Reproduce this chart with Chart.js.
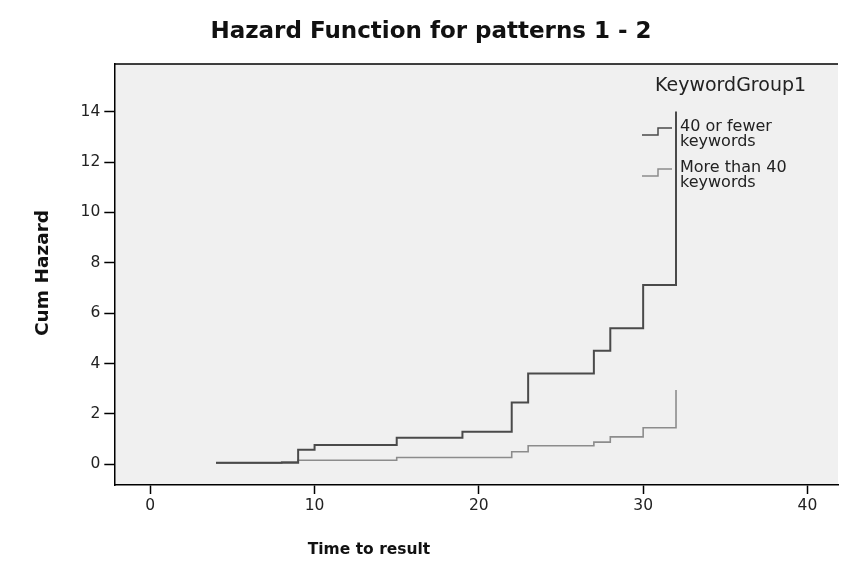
<!DOCTYPE html>
<html>
<head>
<meta charset="utf-8">
<script src="https://cdn.jsdelivr.net/npm/chart.js@4.4.0/dist/chart.umd.min.js"></script>
<style>
  html, body { margin: 0; padding: 0; background: #fff; }
  #wrap { width: 841px; height: 575px; }
</style>
</head>
<body>
<div id="wrap"><canvas id="hazardChart" width="841" height="575"></canvas></div>
<script>
// values
var groupTitle = 'KeywordGroup1';
var groupLines = [['40 or fewer', 'keywords'], ['More than 40', 'keywords']];
var timesFew = [4, 9, 10, 15, 19, 22, 23, 27, 28, 30, 32];
var hazardFew = [0.06, 0.58, 0.77, 1.06, 1.29, 2.45, 3.61, 4.51, 5.40, 7.12, 14.0];
var timesMany = [4, 8, 9, 15, 22, 23, 27, 28, 30, 32];
var hazardMany = [0.05, 0.1, 0.16, 0.27, 0.5, 0.74, 0.88, 1.09, 1.45, 2.95];
var xTicks = [0, 10, 20, 30, 40];
var yTicks = [0, 2, 4, 6, 8, 10, 12, 14];

var lineColors = ['#4a4a4a', '#8c8c8c'];
var fontFam = '"DejaVu Sans", Verdana, sans-serif';

function toPoints(ts, hs) {
    return ts.map(function (t, i) { return { x: t, y: hs[i] }; });
}

var decorPlugin = {
    id: 'decor',
    beforeDraw: function (chart) {
        var ctx = chart.ctx, a = chart.chartArea;
        ctx.save();
        ctx.fillStyle = '#ffffff';
        ctx.fillRect(0, 0, chart.width, chart.height);
        ctx.fillStyle = '#f0f0f0';
        ctx.fillRect(a.left, a.top, a.right - a.left, a.bottom - a.top);
        ctx.restore();
    },
    afterDraw: function (chart) {
        var ctx = chart.ctx, a = chart.chartArea;
        ctx.save();
        // top frame line
        ctx.strokeStyle = '#000';
        ctx.lineWidth = 1.5;
        ctx.beginPath();
        ctx.moveTo(a.left, a.top);
        ctx.lineTo(a.right, a.top);
        ctx.stroke();

        ctx.fillStyle = '#111';
        ctx.textAlign = 'center';
        ctx.textBaseline = 'middle';
        ctx.font = 'bold 23px ' + fontFam;
        ctx.fillText('Hazard Function for patterns 1 - 2', 431, 32);

        ctx.font = 'bold 15.5px ' + fontFam;
        ctx.fillText('Time to result', 369, 550);

        ctx.save();
        ctx.translate(43, 273);
        ctx.rotate(-Math.PI / 2);
        ctx.font = 'bold 18.5px ' + fontFam;
        ctx.fillText('Cum Hazard', 0, 0);
        ctx.restore();

        // legend
        ctx.fillStyle = '#222';
        ctx.textAlign = 'left';
        ctx.font = '19px ' + fontFam;
        ctx.fillText(groupTitle, 655, 86);

        ctx.font = '16px ' + fontFam;
        var rowY = [127, 168];
        groupLines.forEach(function (lines, i) {
            var y0 = rowY[i];
            lines.forEach(function (txt, j) {
                ctx.fillText(txt, 680, y0 + j * 15);
            });
            ctx.strokeStyle = lineColors[i];
            ctx.lineWidth = 1.5;
            ctx.beginPath();
            ctx.moveTo(642, y0 + 8);
            ctx.lineTo(658, y0 + 8);
            ctx.lineTo(658, y0 + 1);
            ctx.lineTo(672, y0 + 1);
            ctx.stroke();
        });
        ctx.restore();
    }
};

var tickFont = { family: fontFam, size: 15.5 };

new Chart(document.getElementById('hazardChart').getContext('2d'), {
    type: 'line',
    data: {
        datasets: [{
            label: groupLines[0].join(' '),
            data: toPoints(timesFew, hazardFew),
            borderColor: lineColors[0],
            borderWidth: 2,
            stepped: true,
            pointRadius: 0,
            fill: false
        }, {
            label: groupLines[1].join(' '),
            data: toPoints(timesMany, hazardMany),
            borderColor: lineColors[1],
            borderWidth: 1.6,
            stepped: true,
            pointRadius: 0,
            fill: false
        }]
    },
    options: {
        responsive: false,
        devicePixelRatio: 1,
        animation: false,
        layout: { padding: { top: 64, right: 3, left: 0, bottom: 0 } },
        plugins: {
            legend: { display: false },
            title: { display: false },
            tooltip: { enabled: false }
        },
        scales: {
            x: {
                type: 'linear',
                min: -2.19,
                max: 41.86,
                afterBuildTicks: function (s) { s.ticks = xTicks.map(function (v) { return { value: v }; }); },
                afterFit: function (s) { s.height = 90; },
                ticks: { font: tickFont, color: '#222', padding: 3, maxRotation: 0, autoSkip: false },
                grid: { drawOnChartArea: false, tickLength: 9, color: '#000', tickWidth: 1.5 },
                border: { color: '#000', width: 1.5 }
            },
            y: {
                type: 'linear',
                min: -0.82,
                max: 15.89,
                afterBuildTicks: function (s) { s.ticks = yTicks.map(function (v) { return { value: v }; }); },
                afterFit: function (s) { s.width = 114.3; },
                ticks: { font: tickFont, color: '#222', padding: 4, autoSkip: false },
                grid: { drawOnChartArea: false, tickLength: 10, color: '#000', tickWidth: 1.5 },
                border: { color: '#000', width: 1.5 }
            }
        }
    },
    plugins: [decorPlugin]
});
</script>
</body>
</html>
